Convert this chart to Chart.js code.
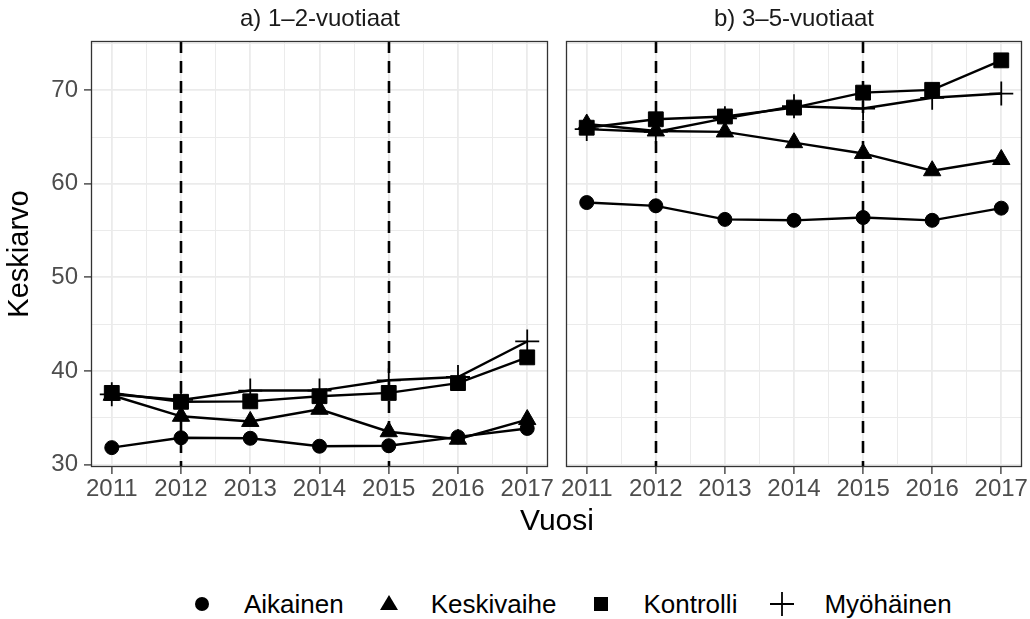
<!DOCTYPE html>
<html>
<head>
<meta charset="utf-8">
<script src="https://cdn.jsdelivr.net/npm/chart.js@4/dist/chart.umd.min.js"></script>
<style>
  body { margin: 0; background: #fff; font-family: "Liberation Sans", Arial, sans-serif; }
  #wrap { position: relative; width: 1030px; height: 619px; overflow: hidden; }
  canvas { position: absolute; top: 0; }
  #chartA { left: 0; }
  #chartB { left: 548px; }
  .strip { position: absolute; top: 5px; width: 300px; text-align: center; font-size: 24px; line-height: 26px; color: #1a1a1a; }
  #xtitle { position: absolute; left: 457px; top: 503px; width: 200px; text-align: center; font-size: 30px; line-height: 34px; color: #000; }
  #legend { position: absolute; left: 187px; top: 589px; height: 30px; display: flex; align-items: center; font-size: 26px; color: #000; }
  #legend .item { display: flex; align-items: center; margin-right: 30px; }
  #legend svg { width: 30px; height: 30px; margin-right: 27px; }
</style>
</head>
<body>
<div id="wrap">
  <canvas id="chartA" width="556" height="510"></canvas>
  <canvas id="chartB" width="482" height="510"></canvas>
  <div class="strip" id="stripA" style="left:170px"></div>
  <div class="strip" id="stripB" style="left:644px"></div>
  <div id="xtitle">Vuosi</div>
  <div id="legend"></div>
</div>
<script>
const years = [2011, 2012, 2013, 2014, 2015, 2016, 2017];
const groups = ["Aikainen", "Keskivaihe", "Kontrolli", "Myöhäinen"];
const panelTitles = ["a) 1–2-vuotiaat", "b) 3–5-vuotiaat"];
const yTicks = [30, 40, 50, 60, 70];
const interventionYears = [2012, 2015];

// a) 1–2-vuotiaat
const aikainen12 = [31.8, 32.85, 32.8, 31.95, 32.0, 32.95, 33.85];
const keskivaihe12 = [37.4, 35.15, 34.6, 35.9, 33.5, 32.7, 34.8];
const kontrolli12 = [37.65, 36.7, 36.75, 37.3, 37.65, 38.7, 41.45];
const myohainen12 = [37.5, 36.9, 37.9, 37.9, 39.0, 39.35, 43.15];

// b) 3–5-vuotiaat
const aikainen35 = [58.0, 57.65, 56.2, 56.1, 56.4, 56.1, 57.4];
const keskivaihe35 = [66.4, 65.65, 65.55, 64.4, 63.25, 61.4, 62.6];
const kontrolli35 = [66.0, 66.9, 67.2, 68.15, 69.75, 70.05, 73.2];
const myohainen35 = [65.85, 65.55, 67.0, 68.3, 68.05, 69.2, 69.65];

const markers = [
  { pointStyle: "circle", pointRadius: 7, pointBorderWidth: 1 },
  { pointStyle: "triangle", pointRadius: 10, pointBorderWidth: 1 },
  { pointStyle: "rect", pointRadius: 10.5, pointBorderWidth: 1 },
  { pointStyle: "cross", pointRadius: 12, pointBorderWidth: 1.8 },
];

const tickFont = { family: "'Liberation Sans', Arial, sans-serif", size: 24 };
const yMin = 29.73, yMax = 75.27;

function makeDatasets(series) {
  return series.map((vals, i) => ({
    label: groups[i],
    data: years.map((x, j) => ({ x: x, y: vals[j] })),
    borderColor: "#000",
    backgroundColor: "#000",
    pointBackgroundColor: "#000",
    pointBorderColor: "#000",
    borderWidth: 2.4,
    tension: 0,
    ...markers[i],
  }));
}

const panelDecor = {
  id: "panelDecor",
  beforeDatasetsDraw(chart) {
    const { ctx, chartArea: a, scales: { x } } = chart;
    ctx.save();
    ctx.strokeStyle = "#000";
    ctx.lineWidth = 2.6;
    ctx.setLineDash([12, 8]);
    interventionYears.forEach(v => {
      const px = Math.round(x.getPixelForValue(v));
      ctx.beginPath();
      ctx.moveTo(px, a.top);
      ctx.lineTo(px, a.bottom);
      ctx.stroke();
    });
    ctx.restore();
  },
  afterDraw(chart) {
    const { ctx, chartArea: a } = chart;
    ctx.save();
    ctx.strokeStyle = "#333";
    ctx.lineWidth = 1.3;
    ctx.strokeRect(a.left + 0.5, a.top + 0.5, a.width - 1, a.height - 1);
    ctx.restore();
  },
};

const isYear = v => years.includes(v);
const isYTick = v => yTicks.includes(v);

function makeOptions(showY) {
  return {
    responsive: false,
    animation: false,
    devicePixelRatio: 1,
    layout: { autoPadding: false, padding: { top: 41, right: 8, bottom: 0, left: 0 } },
    plugins: { legend: { display: false }, tooltip: { enabled: false } },
    scales: {
      x: {
        type: "linear",
        min: 2010.7,
        max: 2017.3,
        afterBuildTicks: s => {
          s.ticks = years.flatMap((y, i) => (i < years.length - 1 ? [y, y + 0.5] : [y])).map(v => ({ value: v }));
        },
        afterFit: s => {
          s.height = 43;
          s.paddingLeft = 0;
          s.paddingRight = 0;
        },
        ticks: {
          autoSkip: false,
          maxRotation: 0,
          padding: 1,
          color: "#4d4d4d",
          font: tickFont,
          callback: v => (isYear(v) ? String(v) : ""),
        },
        grid: {
          color: "#ebebeb",
          lineWidth: c => (c.tick && isYear(c.tick.value) ? 1.8 : 1),
          tickColor: c => (c.tick && isYear(c.tick.value) ? "#333" : "rgba(0,0,0,0)"),
          tickLength: 7,
          tickWidth: 1.3,
        },
        border: { display: false },
      },
      y: {
        type: "linear",
        min: yMin,
        max: yMax,
        afterBuildTicks: s => {
          s.ticks = yTicks.flatMap(v => [v, v + 5]).map(v => ({ value: v }));
        },
        afterFit: s => {
          s.width = showY ? 91 : 18;
          s.paddingTop = 0;
          s.paddingBottom = 0;
        },
        title: {
          display: showY,
          text: "Keskiarvo",
          color: "#000",
          font: { family: "'Liberation Sans', Arial, sans-serif", size: 29 },
          padding: { top: 3, bottom: 0 },
        },
        ticks: {
          display: showY,
          padding: 6,
          color: "#4d4d4d",
          font: tickFont,
          callback: v => (isYTick(v) ? String(v) : ""),
        },
        grid: {
          color: "#ebebeb",
          lineWidth: c => (c.tick && isYTick(c.tick.value) ? 1.8 : 1),
          drawTicks: showY,
          tickColor: c => (c.tick && isYTick(c.tick.value) ? "#333" : "rgba(0,0,0,0)"),
          tickLength: 7,
          tickWidth: 1.3,
        },
        border: { display: false },
      },
    },
  };
}

new Chart(document.getElementById("chartA"), {
  type: "line",
  data: { datasets: makeDatasets([aikainen12, keskivaihe12, kontrolli12, myohainen12]) },
  options: makeOptions(true),
  plugins: [panelDecor],
});

new Chart(document.getElementById("chartB"), {
  type: "line",
  data: { datasets: makeDatasets([aikainen35, keskivaihe35, kontrolli35, myohainen35]) },
  options: makeOptions(false),
  plugins: [panelDecor],
});

document.getElementById("stripA").textContent = panelTitles[0];
document.getElementById("stripB").textContent = panelTitles[1];

// legend symbols
const symbols = [
  '<circle cx="15" cy="15" r="7" fill="#000"/>',
  '<polygon points="15,6 24,21 6,21" fill="#000"/>',
  '<rect x="8" y="8" width="14" height="14" fill="#000"/>',
  '<path d="M3 15H27M15 3V27" stroke="#000" stroke-width="1.8" fill="none"/>',
];
const legend = document.getElementById("legend");
groups.forEach((g, i) => {
  const item = document.createElement("div");
  item.className = "item";
  item.innerHTML = '<svg viewBox="0 0 30 30">' + symbols[i] + "</svg><span>" + g + "</span>";
  legend.appendChild(item);
});
</script>
</body>
</html>
